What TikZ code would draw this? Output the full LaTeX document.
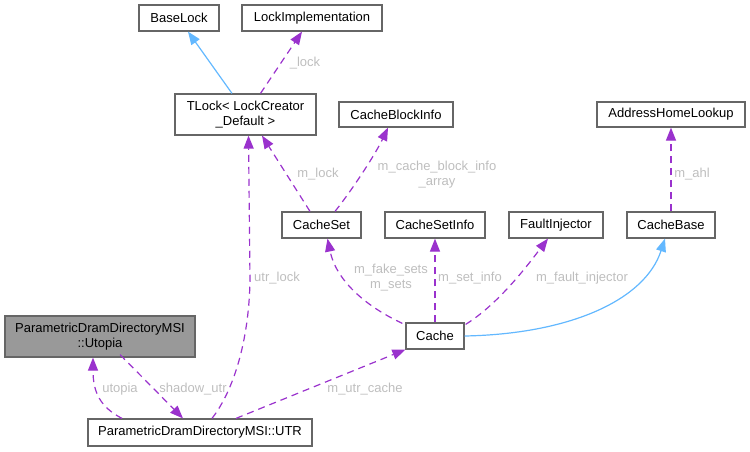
\documentclass[tikz,border=0pt]{standalone}
\usepackage{fontspec}
\setmainfont{Liberation Sans}
\usetikzlibrary{arrows.meta}
\definecolor{edgepurple}{HTML}{9A32CD}
\definecolor{edgeblue}{HTML}{63B8FF}
\definecolor{boxline}{HTML}{666666}
\definecolor{labelgray}{HTML}{BEBEBE}
\definecolor{mainfill}{HTML}{999999}
\tikzset{
  box/.style={draw=boxline, line width=1.2pt, fill=white, inner sep=0pt, align=center,
    font=\fontsize{13}{15}\selectfont},
  usage/.style={draw=edgepurple, line width=1.2pt, dash pattern=on 7pt off 5pt,
    -{Triangle[length=13pt,width=10pt,fill=edgepurple]}},
  inherit/.style={draw=edgeblue, line width=1.2pt,
    -{Triangle[length=13pt,width=10pt,fill=edgeblue]}},
  elabel/.style={text=labelgray, inner sep=0pt, align=center, font=\fontsize{13}{15}\selectfont},
}
\begin{document}
\begin{tikzpicture}[x=1pt,y=-1pt]
\useasboundingbox (0,0) rectangle (750,451);
% nodes
\node[box, minimum width=80pt, minimum height=26pt] (baselock) at (179,18) {BaseLock};
\node[box, minimum width=140pt, minimum height=26pt] (lockimpl) at (312,18) {LockImplementation};
\node[box, minimum width=141pt, minimum height=41pt] (tlock) at (245.5,114.5) {TLock< LockCreator\\\_Default >};
\node[box, minimum width=114pt, minimum height=25pt] (cbi) at (396,114.5) {CacheBlockInfo};
\node[box, minimum width=148pt, minimum height=25pt] (ahl) at (671,114.5) {AddressHomeLookup};
\node[box, minimum width=79pt, minimum height=26pt] (cacheset) at (321.5,225) {CacheSet};
\node[box, minimum width=100pt, minimum height=26pt] (csi) at (435,225) {CacheSetInfo};
\node[box, minimum width=94pt, minimum height=26pt] (fi) at (556,225) {FaultInjector};
\node[box, minimum width=88pt, minimum height=26pt] (cachebase) at (671,225) {CacheBase};
\node[box, minimum width=58pt, minimum height=26pt] (cache) at (435,336) {Cache};
\node[box, fill=mainfill, minimum width=190pt, minimum height=41pt] (utopia) at (100,336.5) {ParametricDramDirectoryMSI\\::Utopia};
\node[box, minimum width=224pt, minimum height=27pt] (utr) at (200,432.5) {ParametricDramDirectoryMSI::UTR};
% edges
\draw[inherit] ([xshift=-13.5pt]tlock.north) -- ([xshift=9pt]baselock.south);
\draw[usage] ([xshift=15pt]tlock.north) -- ([xshift=-10pt]lockimpl.south);
\draw[usage] ([xshift=-11.5pt]cacheset.north) -- ([xshift=16.5pt]tlock.south);
\draw[usage] ([xshift=13.5pt]cacheset.north) .. controls (352,190) and (375,155) .. ([xshift=-8pt]cbi.south);
\draw[usage] (cachebase.north) -- (ahl.south);
\draw[usage] ([xshift=-3pt,yshift=-1pt]cache.north west) .. controls (365,306) and (336,280) .. ([xshift=6pt]cacheset.south);
\draw[usage] (cache.north) -- (csi.south);
\draw[usage] ([xshift=1pt,yshift=-2pt]cache.north east) .. controls (500,303) and (530,262) .. ([xshift=-8pt]fi.south);
\draw[inherit] (cache.east) .. controls (570,334) and (645,300) .. ([xshift=-6pt]cachebase.south);
\draw[usage] ([xshift=12pt]utr.north) .. controls (234,390) and (249,340) .. (250,280) -- ([xshift=3pt]tlock.south);
\draw[usage] ([xshift=-78pt]utr.north) .. controls (100,407) and (93,392) .. ([xshift=-7pt]utopia.south);
\draw[usage] ([xshift=20pt,yshift=3pt]utopia.south) -- ([xshift=-17pt]utr.north);
\draw[usage] ([xshift=36pt]utr.north) -- (cache.south west);
% labels
\node[elabel] (l1) at (305,63) {\_lock};
\node[elabel] (l2) at (318,174) {m\_lock};
\node[elabel] (l3) at (437,174.5) {m\_cache\_block\_info\\\_array};
\node[elabel] (l4) at (692,174) {m\_ahl};
\node[elabel] (l5) at (277,278) {utr\_lock};
\node[elabel] (l6) at (391,278) {m\_fake\_sets\\m\_sets};
\node[elabel] (l7) at (470,278) {m\_set\_info};
\node[elabel] (l8) at (582,278) {m\_fault\_injector};
\node[elabel] (l9) at (120,389) {utopia};
\node[elabel] (l10) at (193,389) {shadow\_utr};
\node[elabel] (l11) at (365,389) {m\_utr\_cache};
\end{tikzpicture}
\end{document}
